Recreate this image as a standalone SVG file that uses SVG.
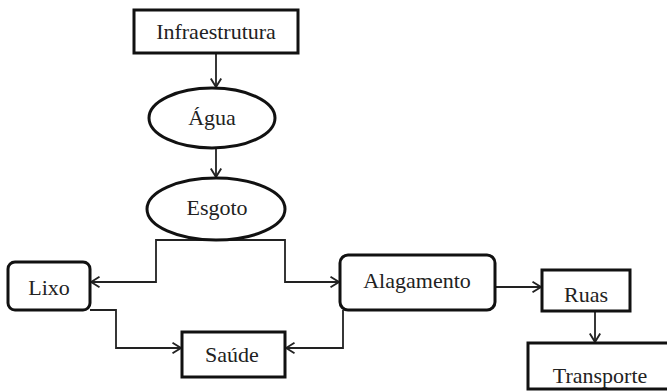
<svg xmlns="http://www.w3.org/2000/svg" width="667" height="392" viewBox="0 0 667 392">
<style>
.n{fill:#fff;stroke:#111;stroke-width:3}
.t{font-family:'Liberation Serif','Times New Roman','DejaVu Serif',serif;font-size:22px;fill:#222;text-anchor:middle}
.c{fill:none;stroke:#222;stroke-width:1.8}
</style>
<defs>
<marker id="a" viewBox="0 0 10 12" refX="9.5" refY="6" markerWidth="10" markerHeight="12" markerUnits="userSpaceOnUse" orient="auto">
<polyline points="1,0.8 9.5,6 1,11.2" fill="none" stroke="#222" stroke-width="1.9"/>
</marker>
</defs>
<rect width="667" height="392" fill="#fff"/>
<g id="connectors">
<line class="c" x1="216" y1="53" x2="216" y2="87" marker-end="url(#a)"/>
<line class="c" x1="216" y1="148" x2="216" y2="177" marker-end="url(#a)"/>
<polyline class="c" points="216,240 156,240 156,282 91,282" marker-end="url(#a)"/>
<polyline class="c" points="216,240 285,240 285,282 339,282" marker-end="url(#a)"/>
<polyline class="c" points="90,310 116,310 116,348 181,348" marker-end="url(#a)"/>
<polyline class="c" points="343,310 343,348 286,348" marker-end="url(#a)"/>
<line class="c" x1="495" y1="287" x2="541" y2="287" marker-end="url(#a)"/>
<line class="c" x1="595" y1="311" x2="595" y2="342" marker-end="url(#a)"/>
</g>
<g id="infraestrutura"><rect class="n" x="134" y="10" width="164" height="43"/><text class="t" x="216" y="39">Infraestrutura</text></g>
<g id="agua"><ellipse class="n" cx="212" cy="118" rx="63" ry="30"/><text class="t" x="212" y="125">Água</text></g>
<g id="esgoto"><ellipse class="n" cx="216" cy="209" rx="69" ry="31"/><text class="t" x="217" y="215">Esgoto</text></g>
<g id="lixo"><rect class="n" x="8" y="262" width="82" height="48" rx="7"/><text class="t" x="49" y="295">Lixo</text></g>
<g id="saude"><rect class="n" x="182" y="332" width="103" height="45"/><text class="t" x="232" y="362">Saúde</text></g>
<g id="alagamento"><rect class="n" x="340" y="255" width="155" height="55" rx="8"/><text class="t" x="417" y="288">Alagamento</text></g>
<g id="ruas"><rect class="n" x="542" y="270" width="88" height="41"/><text class="t" x="586" y="302">Ruas</text></g>
<g id="transporte"><rect class="n" x="528" y="343" width="150" height="46"/><text class="t" x="600" y="383">Transporte</text></g>
</svg>
